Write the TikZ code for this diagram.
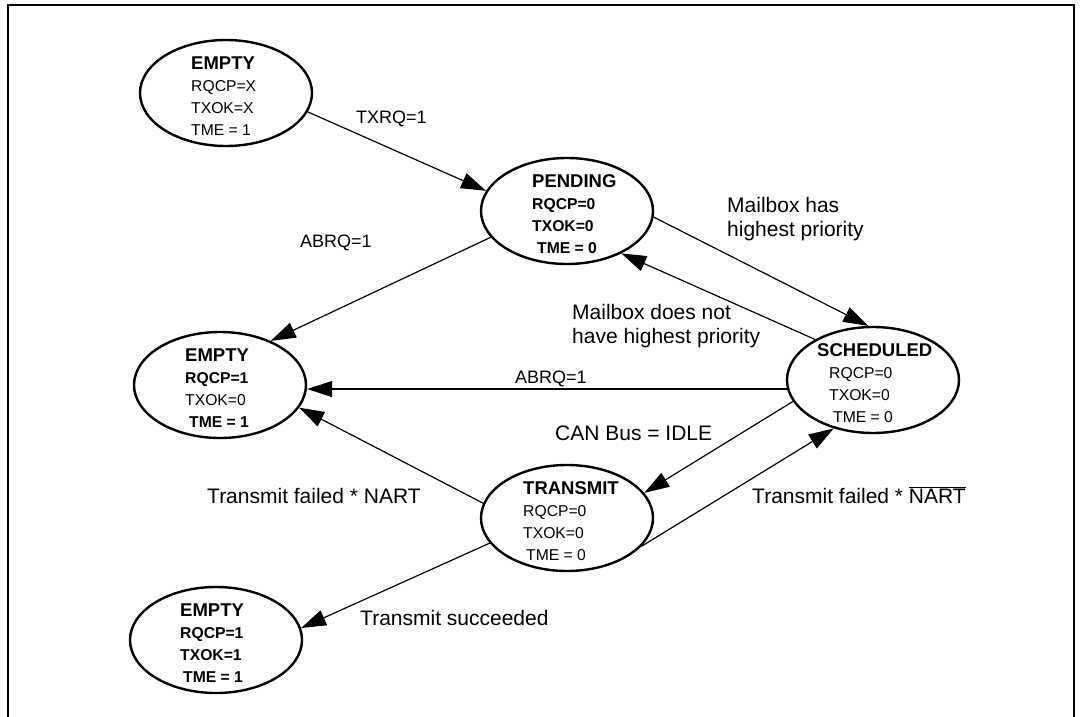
\documentclass[tikz,border=0pt]{standalone}
\usepackage{fontspec}
\setmainfont{Liberation Sans}
\usetikzlibrary{arrows.meta,shapes.geometric}
\newcommand\sttitle[1]{{\fontsize{18.5}{22}\selectfont\bfseries #1}}
\begin{document}
\begin{tikzpicture}[x=1pt,y=-1pt,
  state/.style={ellipse, draw, line width=2.4pt, minimum width=172pt, minimum height=106pt, inner sep=0pt},
  st/.style={align=left, inner sep=0pt, anchor=west, font=\fontsize{15.7}{22}\selectfont},
  conn/.style={line width=1.2pt, -{Triangle[length=25pt,width=16pt]}},
  lab/.style={inner sep=0pt, font=\fontsize{21}{24}\selectfont, align=left},
  labs/.style={inner sep=0pt, font=\fontsize{18}{22}\selectfont}]
\useasboundingbox (0,0) rectangle (1085,717);
\fill[white] (0,0) rectangle (1085,717);
\draw[line width=2.4pt] (8,730) -- (8,5) -- (1074,5) -- (1074,730);

% states
\node[state] (e1) at (226,93) {};
\node[state] (pend) at (567,211) {};
\node[state] (e2) at (220,385) {};
\node[state] (sch) at (873,380) {};
\node[state] (tx) at (567,518) {};
\node[state] (e3) at (216,640) {};

\node[st] (e1t) at (191,96) {\sttitle{EMPTY}\\RQCP=X\\TXOK=X\\TME = 1};
\node[st] (pendt) at (532,214) {\sttitle{PENDING}\\\textbf{RQCP=0}\\\textbf{TXOK=0}\\\hspace*{5pt}\textbf{TME = 0}};
\node[st] (e2t) at (185,388) {\sttitle{EMPTY}\\\textbf{RQCP=1}\\TXOK=0\\\hspace*{4pt}\textbf{TME = 1}};
\node[st] (scht) at (817,383) {\sttitle{SCHEDULED}\\\hspace*{12pt}RQCP=0\\\hspace*{12pt}TXOK=0\\\hspace*{16pt}TME = 0};
\node[st] (txt) at (523,521) {\sttitle{TRANSMIT}\\RQCP=0\\TXOK=0\\\hspace*{3pt}TME = 0};
\node[st] (e3t) at (180,643) {\sttitle{EMPTY}\\\textbf{RQCP=1}\\\textbf{TXOK=1}\\\hspace*{3pt}\textbf{TME = 1}};

% transitions
\draw[conn] (e1.-13) -- (pend.166);
\draw[conn] (pend.199) -- (e2.41);
\draw[conn] (pend.-4) -- (sch.95);
\draw[conn] (sch.145) -- (pend.-38);
\draw[conn] (sch.186) -- (sch.186 -| e2.east);
\draw[conn] (sch.195) -- (tx.18);
\draw[conn] (tx.-21) -- (sch.231);
\draw[conn] (tx.170) -- (e2.-16);
\draw[conn] (tx.198) -- (e3.8);

% labels
\node[labs, anchor=base west] (l1) at (356,123) {TXRQ=1};
\node[labs, anchor=base west] (l2) at (300,247) {ABRQ=1};
\node[lab, anchor=north west] (l3) at (727,197) {Mailbox has\\highest priority};
\node[lab, anchor=north west] (l4) at (572,304) {Mailbox does not\\have highest priority};
\node[labs, anchor=base west] (l5) at (515,383) {ABRQ=1};
\node[lab, anchor=base west] (l6) at (555,440) {CAN Bus = IDLE};
\node[lab, anchor=base west] (l7) at (207,503) {Transmit failed * NART};
\node[lab, anchor=base west] (l8) at (752,503) {Transmit failed * $\overline{\hbox{NART}}$};
\node[lab, anchor=base west] (l9) at (360,625) {Transmit succeeded};
\end{tikzpicture}
\end{document}
